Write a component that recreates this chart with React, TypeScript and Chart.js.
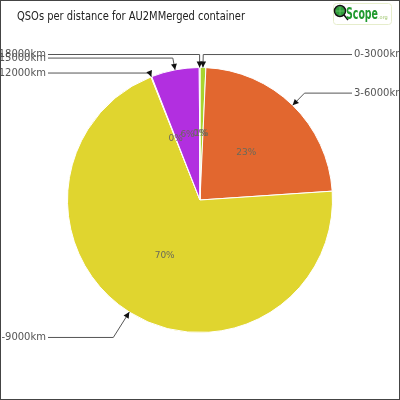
import React, { useEffect, useRef } from "react";
import { Chart, registerables } from "chart.js";

Chart.register(...registerables);

const categories = ["0-3000km", "3-6000km", "6-9000km", "9-12000km", "12-15000km", "15-18000km"];
const qsoCounts = [8, 262, 790, 1, 66, 1];
const percentLabels = ["1%", "23%", "70%", "0%", "6%", "0%"];
const sliceColors = ["#a8d42e", "#e2672f", "#e0d52f", "#e0d52f", "#b22fe0", "#b22fe0"];
const titleText = "QSOs per distance for AU2MMerged container";

const FONT = "'DejaVu Sans', sans-serif";
const leaderExtra = [13, 17, 30, 4, 12, 13];

function fitText(ctx: CanvasRenderingContext2D, text: string, x: number, y: number, width: number) {
  const w = ctx.measureText(text).width;
  ctx.save();
  ctx.translate(x, y);
  ctx.scale(width / w, 1);
  ctx.fillText(text, 0, 0);
  ctx.restore();
}

const decorPlugin = {
  id: "decor",
  afterDraw(chart: any) {
    const ctx = chart.ctx as CanvasRenderingContext2D;
    const meta = chart.getDatasetMeta(0);
    ctx.save();
    // percent labels
    ctx.font = `9px ${FONT}`;
    ctx.fillStyle = "#6a6a5a";
    ctx.textAlign = "center";
    ctx.textBaseline = "middle";
    meta.data.forEach((arc: any, i: number) => {
      const p = arc.getProps(["x", "y", "startAngle", "endAngle", "outerRadius"], true);
      const mid = (p.startAngle + p.endAngle) / 2;
      const rr = p.outerRadius / 2;
      ctx.fillText(percentLabels[i], p.x + Math.cos(mid) * rr, p.y + Math.sin(mid) * rr);
    });
    // leader labels
    ctx.strokeStyle = "#555";
    ctx.lineWidth = 1;
    ctx.font = `10px ${FONT}`;
    meta.data.forEach((arc: any, i: number) => {
      const p = arc.getProps(["x", "y", "startAngle", "endAngle", "outerRadius"], true);
      const mid = (p.startAngle + p.endAngle) / 2;
      const ex = p.x + Math.cos(mid) * p.outerRadius;
      const ey = p.y + Math.sin(mid) * p.outerRadius;
      const er = p.outerRadius + leaderExtra[i];
      const bx = p.x + Math.cos(mid) * er;
      const by = p.y + Math.sin(mid) * er;
      const right = Math.cos(mid) >= 0;
      const lx = right ? 352 : 48;
      ctx.beginPath();
      ctx.moveTo(ex, ey);
      ctx.lineTo(bx, by);
      ctx.lineTo(lx, by);
      ctx.stroke();
      const ang = Math.atan2(ey - by, ex - bx);
      const al = 6, aw = 3;
      ctx.beginPath();
      ctx.moveTo(ex, ey);
      ctx.lineTo(ex - Math.cos(ang) * al - Math.sin(ang) * aw, ey - Math.sin(ang) * al + Math.cos(ang) * aw);
      ctx.lineTo(ex - Math.cos(ang) * al + Math.sin(ang) * aw, ey - Math.sin(ang) * al - Math.cos(ang) * aw);
      ctx.closePath();
      ctx.fillStyle = "#111";
      ctx.fill();
      ctx.fillStyle = "#555";
      ctx.textBaseline = "middle";
      ctx.textAlign = right ? "left" : "right";
      ctx.fillText(categories[i], right ? lx + 2 : lx - 2, by);
    });
    // title
    ctx.font = `12px ${FONT}`;
    ctx.fillStyle = "#222";
    ctx.textAlign = "left";
    ctx.textBaseline = "middle";
    fitText(ctx, titleText, 17, 17, 228);
    // logo
    ctx.strokeStyle = "#e6edcc";
    ctx.lineWidth = 1;
    ctx.beginPath();
    (ctx as any).roundRect ? (ctx as any).roundRect(333.5, 3.5, 58, 21, 3) : ctx.rect(333.5, 3.5, 58, 21);
    ctx.stroke();
    ctx.fillStyle = "#2e9e3a";
    ctx.beginPath();
    ctx.arc(340, 11, 5, 0, Math.PI * 2);
    ctx.fill();
    ctx.strokeStyle = "#7fd07f";
    ctx.lineWidth = 0.6;
    ctx.beginPath();
    ctx.moveTo(335, 11); ctx.lineTo(345, 11);
    ctx.moveTo(340, 6); ctx.lineTo(340, 16);
    ctx.stroke();
    ctx.strokeStyle = "#111";
    ctx.lineWidth = 1.5;
    ctx.beginPath();
    ctx.arc(340, 11, 5.5, 0, Math.PI * 2);
    ctx.stroke();
    ctx.beginPath();
    ctx.moveTo(344, 15);
    ctx.lineTo(348, 20);
    ctx.stroke();
    ctx.fillStyle = "#1f9a2e";
    ctx.font = `bold 15px ${FONT}`;
    ctx.textBaseline = "alphabetic";
    fitText(ctx, "Scope", 346, 19, 32);
    ctx.font = `5px ${FONT}`;
    ctx.fillStyle = "#9cc46a";
    ctx.fillText(".org", 378, 19);
    // frame
    ctx.strokeStyle = "#444";
    ctx.lineWidth = 2;
    ctx.strokeRect(0, 0, 400, 400);
    ctx.restore();
  },
};

export default function App() {
  const ref = useRef<HTMLCanvasElement>(null);
  useEffect(() => {
    document.body.style.margin = "0";
    const chart = new Chart(ref.current!, {
      type: "pie",
      data: {
        labels: categories,
        datasets: [
          {
            data: qsoCounts,
            backgroundColor: sliceColors,
            borderColor: "#ffffff",
            borderWidth: 1,
          },
        ],
      },
      options: {
        animation: false,
        responsive: false,
        devicePixelRatio: 1,
        layout: { padding: { left: 67, right: 67, top: 67, bottom: 67 } },
        plugins: { legend: { display: false }, title: { display: false }, tooltip: { enabled: false } },
      },
      plugins: [decorPlugin],
    });
    return () => chart.destroy();
  }, []);
  return (
    <div style={{ width: 400, height: 400, background: "#fff" }}>
      <canvas ref={ref} width={400} height={400} style={{ display: "block" }} />
    </div>
  );
}
